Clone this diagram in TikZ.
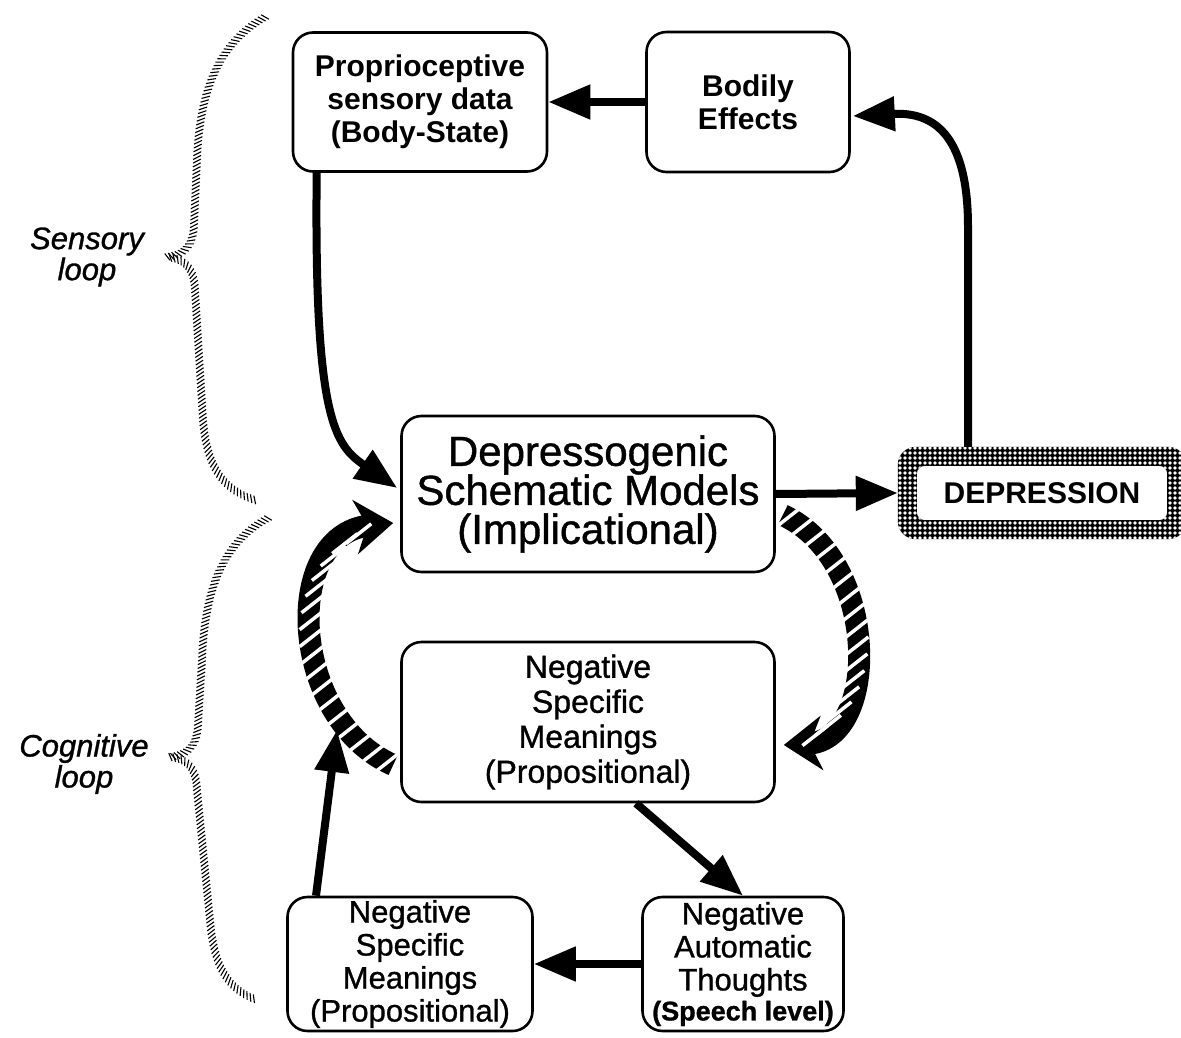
\documentclass[tikz,border=0pt]{standalone}
\usepackage{fontspec}
\setmainfont{Liberation Sans}
\newfontfamily\medfont{Liberation Sans}[FakeBold=1]
\usetikzlibrary{arrows.meta,calc,decorations.markings,patterns.meta,backgrounds}
\lineskiplimit=-40pt

\begin{document}
\begin{tikzpicture}[x=1pt,y=-1pt,
  box/.style={draw,line width=2.6pt,rounded corners=20pt,align=center,inner sep=0pt},
  flow/.style={line width=8pt,-{Triangle[length=42pt,width=33pt]}},
  hatcharrow/.style={line width=22pt,-{Stealth[length=38pt,width=54pt,inset=12pt]},
    postaction={decorate,decoration={markings,
      mark=between positions 0.02 and 0.93 step 17pt with {\pgftransformresetnontranslations
        \draw[white,line width=3.5pt,-] (-12.6pt,-9.9pt) -- (12.6pt,9.9pt);}}}},
  bracehatch/.style={postaction={decorate,decoration={markings,
      mark=between positions 0 and 1 step 3.8pt with {\draw[line width=1.1pt,-] (-2.2pt,3.8pt) -- (2.2pt,-3.8pt);}}}}]
  \useasboundingbox (0,0) rectangle (1181,1038);
  \node[box,minimum width=254pt,minimum height=139pt,font=\bfseries\fontsize{30}{33}\selectfont] (prop) at (420,102) {Proprioceptive\\sensory data\\(Body-State)};
  \node[box,minimum width=203pt,minimum height=140pt,font=\bfseries\fontsize{30}{33}\selectfont] (bodily) at (748,102) {Bodily\\Effects};
  \node[box,minimum width=373pt,minimum height=156pt,font=\medfont\fontsize{42}{39}\selectfont] (dsm) at (588,494) {Depressogenic\\Schematic Models\\(Implicational)};
  \node[minimum width=250pt,minimum height=54pt,inner sep=0pt,font=\bfseries\fontsize{30}{33}\selectfont] (dep) at (1042,493) {DEPRESSION};
  \node[box,minimum width=373pt,minimum height=160pt,font=\medfont\fontsize{32}{35}\selectfont] (nsm) at (588,722) {Negative\\Specific\\Meanings\\(Propositional)};
  \node[box,minimum width=245pt,minimum height=134pt,font=\medfont\fontsize{31}{33}\selectfont] (nsmlow) at (410,964) {Negative\\Specific\\Meanings\\(Propositional)};
  \node[box,minimum width=201pt,minimum height=134pt,font=\medfont\fontsize{31}{33}\selectfont] (nat) at (743,964) {Negative\\Automatic\\Thoughts\\[-3pt]{\bfseries\fontsize{27}{30}\selectfont(Speech level)}};
  \node[font=\medfont\itshape\fontsize{31}{31}\selectfont,align=center] (sensory) at (87,257) {Sensory\\loop};
  \node[font=\medfont\itshape\fontsize{31}{31}\selectfont,align=center] (cognitive) at (84,764) {Cognitive\\loop};

  \path[fill=black,even odd rule,rounded corners=18pt,postaction={pattern={Dots[distance=5pt,radius=1.9pt]},pattern color=white}]
    ($(dep.south west)+(-19,19)$) rectangle ($(dep.north east)+(19,-19)$)
    [rounded corners=8pt] (dep.south west) rectangle (dep.north east);

  \draw[flow] (bodily.west) -- (prop.east);
  \draw[flow] ($(dep.north)+(-74,-19)$) -- ++(0,-220) .. controls (968,130) and (930,112) .. ($(bodily.east)+(2,14)$);
  \draw[flow] ($(prop.south west)+(25,0)$) .. controls (314,420) and (335,445) .. ($(dsm.west)+(-3,-6)$);
  \draw[flow] (dsm.east) -- ($(dep.west)+(-19,0)$);
  \draw[flow] ($(nsm.south)+(48,0)$) -- (nat.north);
  \draw[flow] (nat.west) -- (nsmlow.east);
  \coordinate (cogtip) at (337,730);
  \draw[flow] ($(nsmlow.north)+(-94,0)$) -- (cogtip);

  \begin{scope}[on background layer]
    \draw[hatcharrow] ($(nsm.west)+(-7,43)$) .. controls (290,720) and (280,535) .. ($(dsm.west)+(-7,29)$);
    \draw[hatcharrow] ($(dsm.east)+(7,21)$) .. controls (880,560) and (880,740) .. ($(nsm.east)+(8,23)$);
  \end{scope}

  \path[bracehatch] (265,17) .. controls (225,40) and (200,80) .. (197,160) -- (194,225)
    .. controls (193,248) and (182,255) .. (167,257) .. controls (183,259) and (194,266) .. (195,290)
    -- (203,420) .. controls (207,470) and (225,490) .. (255,500);
  \path[bracehatch] (268,518) .. controls (228,540) and (205,580) .. (202,660) -- (198,725)
    .. controls (197,748) and (185,755) .. (170,757) .. controls (186,759) and (196,766) .. (197,790)
    -- (210,920) .. controls (214,970) and (230,990) .. (257,1000);
\end{tikzpicture}
\end{document}
